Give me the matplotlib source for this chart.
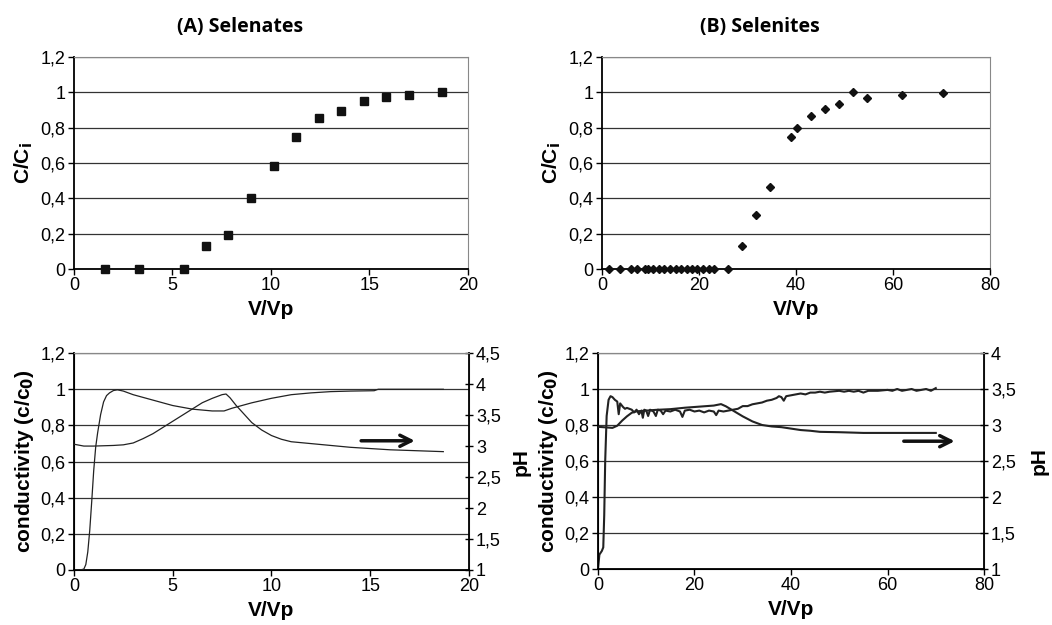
import matplotlib
matplotlib.use("Agg")
import matplotlib.pyplot as plt
from matplotlib.ticker import FuncFormatter, MultipleLocator

plt.rcParams['font.family'] = ['Liberation Sans', 'DejaVu Sans']

# (A) selenates breakthrough
sel_a_x = [1.57, 3.32, 5.57, 6.71, 7.84, 9.01, 10.14, 11.26, 12.45, 13.56, 14.72, 15.85, 16.99, 18.7]
sel_a_y = [0, 0, 0, 0.13, 0.194, 0.40, 0.585, 0.75, 0.857, 0.897, 0.949, 0.976, 0.987, 1.0]

# (B) selenites breakthrough
sel_b_x = [1.37, 3.64, 5.97, 7.14, 8.79, 9.48, 10.58, 11.74, 12.84, 14.0, 15.18, 16.28, 17.45,
           18.6, 19.7, 20.9, 22.0, 23.1, 25.9, 28.85, 31.7, 34.6, 38.9, 40.3, 43.1, 46.0, 48.9,
           51.7, 54.6, 61.8, 70.4]
sel_b_y = [0] * 19 + [0.13, 0.308, 0.462, 0.75, 0.80, 0.868, 0.906, 0.936, 1.0, 0.97, 0.987, 0.998]

# (A) conductivity and pH
cond_a_x = [0, 0.3, 0.5, 0.6, 0.7, 0.8, 0.9, 1.0, 1.1, 1.2, 1.35, 1.5, 1.65, 1.8, 2.0, 2.2, 2.5,
            3.0, 4.0, 5.0, 6.0, 7.0, 7.6, 8.0, 9.0, 10.0, 11.0, 12.0, 13.0, 14.0, 15.2, 15.4, 18.7]
cond_a_y = [0, 0, 0.005, 0.03, 0.1, 0.22, 0.38, 0.55, 0.68, 0.76, 0.86, 0.93, 0.965, 0.98, 0.993,
            0.997, 0.99, 0.97, 0.94, 0.91, 0.89, 0.88, 0.88, 0.895, 0.925, 0.95, 0.97, 0.98,
            0.987, 0.99, 0.992, 1.0, 1.0]
ph_a_x = [0, 0.5, 1.0, 2.0, 2.5, 3.0, 3.5, 4.0, 4.5, 5.0, 5.5, 6.0, 6.5, 7.0, 7.5, 7.7, 7.9, 8.2,
          8.6, 9.0, 9.5, 10.0, 10.5, 11.0, 12.0, 14.0, 16.0, 18.7]
ph_a_y = [3.03, 3.0, 3.0, 3.01, 3.02, 3.05, 3.12, 3.2, 3.3, 3.4, 3.5, 3.6, 3.7, 3.77, 3.83, 3.84,
          3.78, 3.66, 3.52, 3.38, 3.26, 3.17, 3.11, 3.07, 3.04, 2.98, 2.94, 2.91]

# (B) conductivity and pH
cond_b_x = [0, 0.3, 0.8, 1.1, 1.3, 1.5, 1.8, 2.2, 2.6, 3.0, 3.5, 4.0, 4.3, 4.6, 5.2, 5.6, 6.0,
            7.0, 7.5, 8.0, 8.5, 9.0, 9.3, 9.6, 10.0, 10.4, 10.8, 11.5, 12.0, 12.4, 13.0, 13.5,
            14.0, 15.0, 16.0, 17.0, 17.5, 18.0, 19.0, 20.0, 21.0, 22.0, 23.0, 24.0, 24.5, 25.0,
            26.0, 27.0, 28.0, 29.0, 30.0, 31.0, 32.0, 33.0, 34.0, 35.0, 36.0, 37.0, 37.5, 38.0,
            38.5, 39.0, 40.0, 41.0, 42.0, 43.0, 44.0, 45.0, 46.0, 47.0, 48.0, 50.0, 51.0, 52.0,
            53.0, 54.0, 55.0, 56.0, 58.0, 60.0, 61.0, 62.0, 63.0, 64.0, 65.0, 66.0, 67.0, 68.0,
            69.0, 70.0]
cond_b_y = [0.0, 0.08, 0.1, 0.12, 0.3, 0.6, 0.85, 0.94, 0.96, 0.955, 0.94, 0.93, 0.86, 0.92, 0.9,
            0.89, 0.895, 0.885, 0.87, 0.885, 0.86, 0.88, 0.84, 0.885, 0.88, 0.85, 0.885, 0.875,
            0.85, 0.885, 0.88, 0.86, 0.88, 0.875, 0.885, 0.875, 0.845, 0.88, 0.885, 0.875, 0.88,
            0.87, 0.88, 0.875, 0.855, 0.88, 0.875, 0.88, 0.885, 0.89, 0.905, 0.905, 0.915, 0.92,
            0.925, 0.935, 0.94, 0.95, 0.96, 0.955, 0.935, 0.96, 0.965, 0.97, 0.975, 0.97, 0.98,
            0.98, 0.985, 0.98, 0.985, 0.99, 0.985, 0.99, 0.985, 0.99, 0.98, 0.99, 0.99, 0.995,
            0.99, 1.0, 0.99, 0.995, 1.0, 0.99, 0.995, 1.0, 0.99, 1.005]
ph_b_x = [0, 1, 2, 3, 4, 5, 6, 7, 8, 10, 12, 15, 18, 20, 22, 24, 25.5, 26.5, 28, 30, 32, 34, 36,
          38, 40, 42, 44, 46, 50, 55, 60, 65, 70]
ph_b_y = [2.975, 2.97, 2.965, 2.96, 2.99, 3.06, 3.12, 3.17, 3.19, 3.2, 3.21, 3.22, 3.24, 3.25,
          3.26, 3.27, 3.29, 3.26, 3.2, 3.12, 3.05, 3.0, 2.98, 2.97, 2.95, 2.93, 2.92, 2.905, 2.9,
          2.89, 2.89, 2.89, 2.89]

comma = FuncFormatter(lambda v, p: ('%g' % round(v, 2)).replace('.', ','))
line_col = '#222222'
tick_fs = 13
label_fs = 15


def style_axes(ax, xmax, xstep):
    ax.set_xlim(0, xmax)
    ax.set_ylim(0, 1.2)
    ax.xaxis.set_major_locator(MultipleLocator(xstep))
    ax.yaxis.set_major_locator(MultipleLocator(0.2))
    ax.xaxis.set_major_formatter(comma)
    ax.yaxis.set_major_formatter(comma)
    ax.grid(axis='y', color='#333333', linewidth=0.9, zorder=0)
    ax.spines['top'].set_color('#888888')
    ax.spines['right'].set_color('#888888')
    ax.spines['left'].set_linewidth(1.3)
    ax.spines['bottom'].set_linewidth(1.3)
    ax.tick_params(labelsize=tick_fs, length=4, width=1, pad=2)
    ax.set_xlabel('V/Vp', fontsize=label_fs, fontweight='bold', labelpad=4)


fig = plt.figure(figsize=(10.52, 6.25), dpi=100)

ax1 = fig.add_axes([0.0703, 0.5696, 0.3745, 0.339])
ax1.plot(sel_a_x, sel_a_y, 's', color='#111111', markersize=6, zorder=3, clip_on=False)
style_axes(ax1, 20, 5)
ax1.set_ylabel('C/C$_\\mathbf{i}$', fontsize=label_fs, fontweight='bold', labelpad=4)

ax2 = fig.add_axes([0.5722, 0.5696, 0.3688, 0.339])
ax2.plot(sel_b_x, sel_b_y, 'D', color='#111111', markersize=4.5, zorder=3, clip_on=False)
style_axes(ax2, 80, 20)
ax2.set_ylabel('C/C$_\\mathbf{i}$', fontsize=label_fs, fontweight='bold', labelpad=4)

fig.text(0.228, 0.957, '(A) Selenates', fontsize=14, fontweight='bold',
         family='Open Sans', ha='center', va='center')
fig.text(0.7224, 0.957, '(B) Selenites', fontsize=14, fontweight='bold',
         family='Open Sans', ha='center', va='center')

ax3 = fig.add_axes([0.0703, 0.088, 0.3755, 0.347])
ax3.plot(cond_a_x, cond_a_y, color=line_col, linewidth=0.9, zorder=3)
style_axes(ax3, 20, 5)
ax3.set_ylabel('conductivity (c/c$_\\mathbf{0}$)', fontsize=label_fs, fontweight='bold', labelpad=3)
ax3r = ax3.twinx()
ax3r.plot(ph_a_x, ph_a_y, color=line_col, linewidth=0.9, zorder=3)
ax3r.set_ylim(1, 4.5)
ax3r.yaxis.set_major_locator(MultipleLocator(0.5))
ax3r.yaxis.set_major_formatter(comma)
ax3r.spines['right'].set_linewidth(1.3)
ax3r.spines['top'].set_color('#888888')
ax3r.tick_params(labelsize=tick_fs, length=6, width=1, direction='inout', pad=2)
ax3r.set_ylabel('pH', fontsize=label_fs, fontweight='bold', labelpad=8)
ax3.annotate('', xy=(17.4, 0.715), xytext=(14.4, 0.715),
             arrowprops=dict(arrowstyle='->', lw=2.5, color='#111111', mutation_scale=20))

ax4 = fig.add_axes([0.5684, 0.0896, 0.367, 0.3456])
ax4.plot(cond_b_x, cond_b_y, color=line_col, linewidth=1.5, zorder=3)
style_axes(ax4, 80, 20)
ax4.set_ylabel('conductivity (c/c$_\\mathbf{0}$)', fontsize=label_fs, fontweight='bold', labelpad=3)
ax4r = ax4.twinx()
ax4r.plot(ph_b_x, ph_b_y, color=line_col, linewidth=1.5, zorder=3)
ax4r.set_ylim(1, 4)
ax4r.yaxis.set_major_locator(MultipleLocator(0.5))
ax4r.yaxis.set_major_formatter(comma)
ax4r.spines['right'].set_linewidth(1.3)
ax4r.spines['top'].set_color('#888888')
ax4r.tick_params(labelsize=tick_fs, length=6, width=1, direction='inout', pad=2)
ax4r.set_ylabel('pH', fontsize=label_fs, fontweight='bold', labelpad=10)
ax4.annotate('', xy=(74.5, 0.71), xytext=(62.8, 0.71),
             arrowprops=dict(arrowstyle='->', lw=2.5, color='#111111', mutation_scale=20))

fig.savefig('out.png', dpi=100)
